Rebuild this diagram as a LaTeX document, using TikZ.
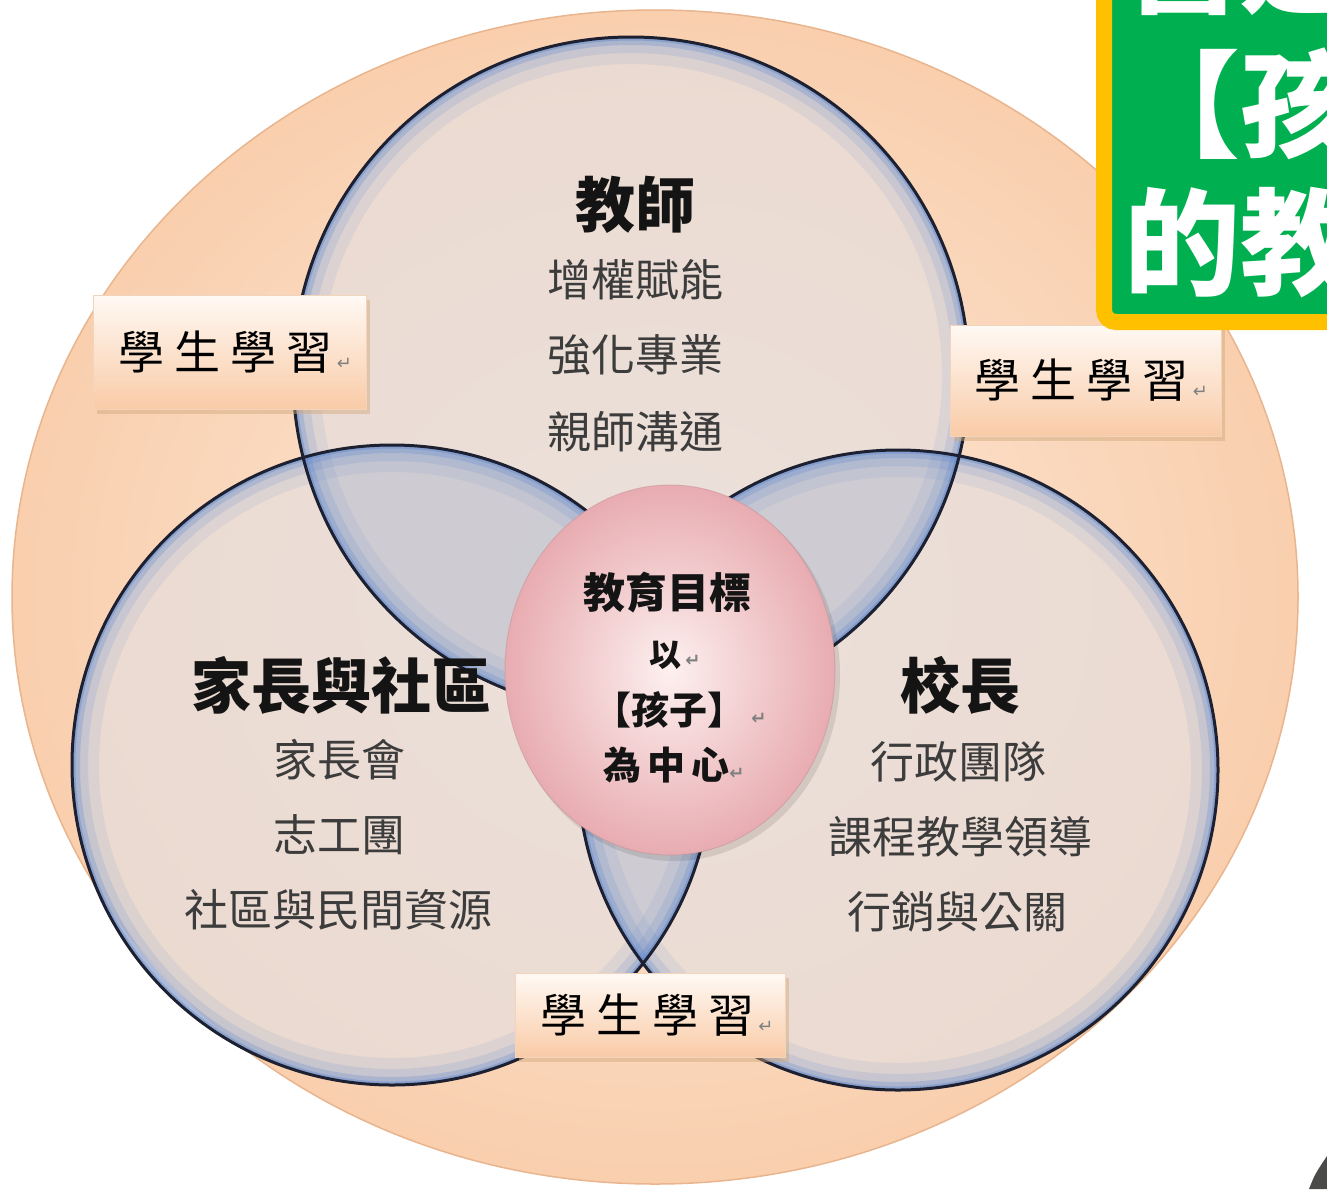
\documentclass[tikz,border=0pt]{standalone}
\usepackage{fontspec}
\newfontfamily\cjk{Noto Sans CJK TC}
\newfontfamily\dv{DejaVu Sans}
\usetikzlibrary{shadows}
\definecolor{peachA}{HTML}{FDEADB}
\definecolor{peachB}{HTML}{F9CFAE}
\definecolor{peachEdge}{HTML}{E9B58E}
\definecolor{circF}{HTML}{E6DEDC}
\definecolor{rimblue}{HTML}{5A84CC}
\definecolor{outl}{HTML}{1C2030}
\definecolor{lensF}{HTML}{A9B3C8}
\definecolor{pinkA}{HTML}{FDF0EF}
\definecolor{pinkB}{HTML}{E8ACB1}
\definecolor{boxTop}{HTML}{FFF9F4}
\definecolor{boxBot}{HTML}{F9CBA7}
\definecolor{greenF}{HTML}{00B050}
\definecolor{yellowF}{HTML}{FFC000}
\definecolor{lblc}{HTML}{3C3C3C}
\definecolor{headc}{HTML}{141414}
\definecolor{cornerc}{HTML}{4A4A48}
\newcommand{\retmark}{{\dv\fontsize{18}{18}\selectfont\textcolor{gray}{↵}}}
\newcommand{\xuexi}{{\fontsize{46}{46}\selectfont 學\hspace{10pt}生\hspace{10pt}學\hspace{10pt}習}\hspace{4pt}\retmark}
\begin{document}
\begin{tikzpicture}[x=1pt,y=-1pt,
  every node/.style={inner sep=0pt, font=\cjk},
  ring/.style={draw=outl, line width=3pt},
  head/.style={text=headc, font=\cjk\bfseries\fontsize{60}{60}\selectfont},
  lbl/.style={text=lblc, font=\cjk\fontsize{44}{44}\selectfont},
  ctr/.style={text=headc, font=\cjk\bfseries\fontsize{38}{38}\selectfont},
  sbox/.style={draw=peachEdge!60, line width=0.8pt, top color=boxTop, bottom color=boxBot,
     drop shadow={shadow xshift=4pt, shadow yshift=-5pt, opacity=0.45, fill=brown!70},
     text=black},
  gtext/.style={text=white, anchor=west, font=\cjk\bfseries\fontsize{116}{116}\selectfont}
]
\useasboundingbox (0,0) rectangle (1327,1189);
\begin{scope}
\clip (0,0) rectangle (1327,1189);
\fill[white] (0,0) rectangle (1327,1189);
% outer ellipse
\coordinate (cO) at (655,597);
\shade[inner color=peachA, outer color=peachB] (cO) ellipse [x radius=643pt, y radius=587pt];
\draw[peachEdge, line width=1.5pt] (cO) ellipse [x radius=643pt, y radius=587pt];
% circle centres
\coordinate (cT) at (631,375);
\coordinate (cL) at (392,765);
\coordinate (cR) at (898,770);
\coordinate (cC) at (670,670);
% fills
\fill[circF, fill opacity=0.75] (cT) circle (338pt);
\fill[circF, fill opacity=0.75] (cL) circle (320pt);
\fill[circF, fill opacity=0.75] (cR) circle (320pt);
% lenses
\begin{scope}
 \clip (cT) circle (338pt);
 \fill[lensF, fill opacity=0.4] (cL) circle (320pt);
 \fill[lensF, fill opacity=0.4] (cR) circle (320pt);
\end{scope}
\begin{scope}
 \clip (cL) circle (320pt);
 \fill[lensF, fill opacity=0.4] (cR) circle (320pt);
\end{scope}
% rims
\begin{scope}
 \clip (cT) circle (338pt);
 \foreach \w/\o in {54/0.1,32/0.15,16/0.25,7/0.4}
   \draw[rimblue, line width=\w pt, draw opacity=\o] (cT) circle (338pt);
\end{scope}
\begin{scope}
 \clip (cL) circle (320pt);
 \foreach \w/\o in {54/0.1,32/0.15,16/0.25,7/0.4}
   \draw[rimblue, line width=\w pt, draw opacity=\o] (cL) circle (320pt);
\end{scope}
\begin{scope}
 \clip (cR) circle (320pt);
 \foreach \w/\o in {54/0.1,32/0.15,16/0.25,7/0.4}
   \draw[rimblue, line width=\w pt, draw opacity=\o] (cR) circle (320pt);
\end{scope}
\draw[ring] (cT) circle (338pt);
\draw[ring] (cL) circle (320pt);
\draw[ring] (cR) circle (320pt);
% centre ellipse
\fill[black, opacity=0.1] ([shift={(4,5)}]cC) ellipse [x radius=166pt, y radius=186pt];
\shade[inner color=pinkA, outer color=pinkB] (cC) ellipse [x radius=165pt, y radius=185pt];
\draw[pinkB!85!black, line width=1pt, draw opacity=0.5] (cC) ellipse [x radius=165pt, y radius=185pt];
% texts: teacher
\node[head] (tT) at (635,205) {教師};
\node[lbl] (t1) at (635,280) {增權賦能};
\node[lbl] (t2) at (635,355) {強化專業};
\node[lbl] (t3) at (635,432) {親師溝通};
% parents
\node[head] (pT) at (341,685) {家長與社區};
\node[lbl] (p1) at (339,760) {家長會};
\node[lbl] (p2) at (339,835) {志工團};
\node[lbl] (p3) at (338,910) {社區與民間資源};
% principal
\node[head] (rT) at (960,685) {校長};
\node[lbl] (r1) at (958,762) {行政團隊};
\node[lbl] (r2) at (960,837) {課程教學領導};
\node[lbl] (r3) at (957,912) {行銷與公關};
% centre
\node[text=headc, font=\cjk\bfseries\fontsize{42}{42}\selectfont] (c1) at (667,593) {教育目標};
\node[ctr, font=\cjk\bfseries\fontsize{32}{32}\selectfont] (c2) at (675,655) {以\hspace{4pt}\retmark};
\node[ctr] (c3) at (680,710) {【孩子】\hspace{6pt}\retmark};
\node[ctr] (c4) at (674,765) {為\hspace{6pt}中\hspace{6pt}心\retmark};
% student learning boxes
\node[sbox, minimum width=273pt, minimum height=114pt] (b1) at (229.5,352) {\hspace{12pt}\xuexi};
\node[sbox, minimum width=271pt, minimum height=111pt] (b2) at (1085.5,380.5) {\hspace{12pt}\xuexi};
\node[sbox, minimum width=270pt, minimum height=84pt] (b3) at (650,1015) {\hspace{14pt}\xuexi};
% green sign
\draw[yellowF, fill=greenF, line width=16pt, rounded corners=12pt] (1104,-60) rectangle (1380,322);
\node[gtext] (g1) at (1124,-40) {營造};
\node[gtext] (g2) at (1124,104) {【孩};
\node[gtext] (g3) at (1124,243) {的教};
% dark corner
\fill[cornerc] (1309,1189) .. controls (1315,1174) .. (1327,1156) -- (1327,1189) -- cycle;
\end{scope}
\end{tikzpicture}
\end{document}
